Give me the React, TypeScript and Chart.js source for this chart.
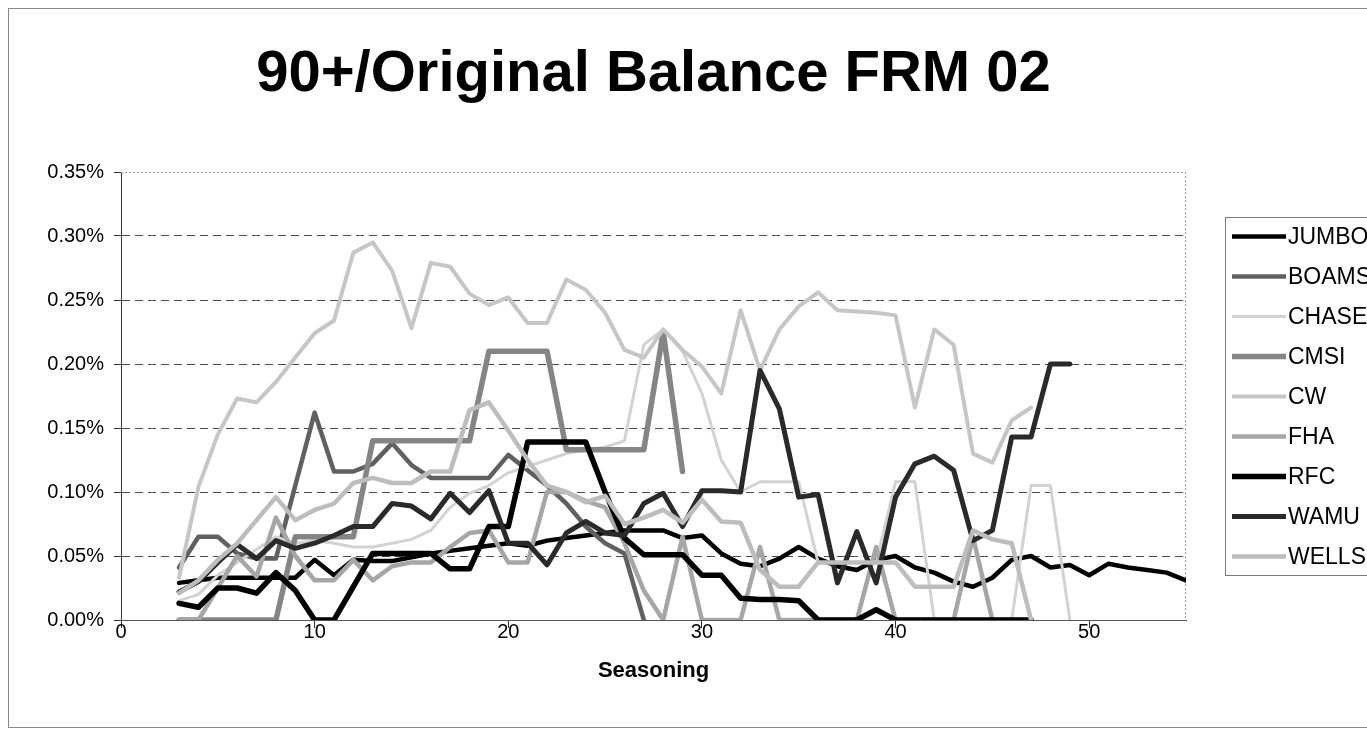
import React, { useEffect, useRef } from 'react';
import { Chart, registerables } from 'chart.js';

Chart.register(...registerables);

const TITLE = '90+/Original Balance FRM 02';
const X_TITLE = 'Seasoning';
const FONT = '"Liberation Sans", Arial, Helvetica, sans-serif';

// first seasoning month of every series
const START = 3;

const X_MIN = 0;
const X_MAX = 55;
const X_STEP = 10;
const Y_MIN = 0;
const Y_MAX = 0.35;
const Y_STEP = 0.05;

// values in percent (0.05 means 0.05%)
const JUMBO = [0.029, 0.031, 0.033, 0.033, 0.033, 0.033, 0.033, 0.047, 0.035, 0.047, 0.046, 0.046, 0.049, 0.052, 0.054, 0.056, 0.058, 0.06, 0.058, 0.062, 0.064, 0.066, 0.068, 0.07, 0.07, 0.07, 0.064, 0.066, 0.052, 0.044, 0.042, 0.048, 0.057, 0.048, 0.042, 0.039, 0.047, 0.05, 0.041, 0.037, 0.03, 0.026, 0.033, 0.047, 0.05, 0.041, 0.043, 0.035, 0.044, 0.041, 0.039, 0.037, 0.031];
const BOAMS = [0.041, 0.065, 0.065, 0.052, 0.048, 0.048, 0.105, 0.162, 0.116, 0.116, 0.122, 0.138, 0.121, 0.111, 0.111, 0.111, 0.111, 0.129, 0.117, 0.105, 0.091, 0.073, 0.06, 0.052, 0];
const CHASE = [0.015, 0.02, 0.035, 0.045, 0.055, 0.065, 0.06, 0.062, 0.06, 0.057, 0.057, 0.06, 0.063, 0.07, 0.088, 0.099, 0.105, 0.115, 0.12, 0.125, 0.13, 0.133, 0.135, 0.14, 0.215, 0.227, 0.21, 0.177, 0.125, 0.1, 0.108, 0.108, 0.108, 0.045, 0.045, 0.045, 0.045, 0.108, 0.108, 0, 0, 0, 0, 0, 0.105, 0.105, 0];
const CMSI = [0, 0, 0, 0, 0, 0, 0.065, 0.065, 0.065, 0.065, 0.14, 0.14, 0.14, 0.14, 0.14, 0.14, 0.21, 0.21, 0.21, 0.21, 0.133, 0.133, 0.133, 0.133, 0.133, 0.225, 0.116];
const CW = [0.033, 0.104, 0.145, 0.173, 0.17, 0.186, 0.205, 0.224, 0.234, 0.287, 0.295, 0.273, 0.228, 0.279, 0.276, 0.255, 0.246, 0.252, 0.232, 0.232, 0.266, 0.258, 0.24, 0.211, 0.205, 0.227, 0.211, 0.198, 0.177, 0.242, 0.195, 0.227, 0.245, 0.256, 0.242, 0.241, 0.24, 0.238, 0.166, 0.227, 0.215, 0.13, 0.123, 0.156, 0.166];
const FHA = [0, 0, 0.025, 0.05, 0.034, 0.08, 0.05, 0.031, 0.031, 0.047, 0.031, 0.042, 0.045, 0.045, 0.057, 0.068, 0.07, 0.045, 0.045, 0.1, 0.1, 0.093, 0.088, 0.06, 0.023, 0, 0.065, 0, 0, 0, 0.057, 0, 0, 0, 0, 0, 0.057, 0, 0, 0, 0, 0.065, 0, 0, 0];
const RFC = [0.013, 0.01, 0.025, 0.025, 0.021, 0.037, 0.023, 0, 0, 0.026, 0.052, 0.052, 0.052, 0.052, 0.04, 0.04, 0.073, 0.073, 0.139, 0.139, 0.139, 0.139, 0.1, 0.064, 0.051, 0.051, 0.051, 0.035, 0.035, 0.017, 0.016, 0.016, 0.015, 0, 0, 0, 0.008, 0, 0, 0, 0, 0, 0, 0, 0];
const WAMU = [0.022, 0.03, 0.045, 0.059, 0.048, 0.062, 0.056, 0.06, 0.066, 0.073, 0.073, 0.091, 0.089, 0.079, 0.099, 0.084, 0.101, 0.06, 0.06, 0.043, 0.068, 0.077, 0.068, 0.066, 0.091, 0.099, 0.073, 0.101, 0.101, 0.1, 0.195, 0.165, 0.096, 0.098, 0.029, 0.069, 0.029, 0.096, 0.122, 0.128, 0.117, 0.062, 0.07, 0.143, 0.143, 0.2, 0.2];
const WELLS = [0.021, 0.031, 0.047, 0.06, 0.078, 0.096, 0.078, 0.086, 0.091, 0.107, 0.111, 0.107, 0.107, 0.116, 0.116, 0.164, 0.17, 0.148, 0.125, 0.105, 0.1, 0.092, 0.097, 0.075, 0.08, 0.086, 0.076, 0.094, 0.077, 0.076, 0.039, 0.026, 0.026, 0.045, 0.045, 0.045, 0.045, 0.045, 0.026, 0.026, 0.026, 0.07, 0.063, 0.06, 0];

const SERIES: { name: string; values: number[]; color: string; width: number }[] = [
  { name: 'JUMBO', values: JUMBO, color: '#000000', width: 4.5 },
  { name: 'BOAMS', values: BOAMS, color: '#606060', width: 4.5 },
  { name: 'CHASE', values: CHASE, color: '#d2d2d2', width: 3 },
  { name: 'CMSI', values: CMSI, color: '#858585', width: 5.5 },
  { name: 'CW', values: CW, color: '#c6c6c6', width: 4 },
  { name: 'FHA', values: FHA, color: '#a6a6a6', width: 4.5 },
  { name: 'RFC', values: RFC, color: '#000000', width: 5.5 },
  { name: 'WAMU', values: WAMU, color: '#2a2a2a', width: 5 },
  { name: 'WELLS', values: WELLS, color: '#bdbdbd', width: 4.5 },
];

const CANVAS_W = 1418;
const CANVAS_H = 718;

const titlePlugin = {
  id: 'bigTitle',
  afterDraw(chart: any) {
    const { ctx, chartArea } = chart;
    ctx.save();
    ctx.fillStyle = '#000';
    ctx.font = `bold 58px ${FONT}`;
    ctx.textAlign = 'center';
    ctx.textBaseline = 'middle';
    ctx.fillText(TITLE, (chartArea.left + chartArea.right) / 2, 66);
    ctx.restore();
  },
};

const framePlugin = {
  id: 'plotFrame',
  beforeDatasetsDraw(chart: any) {
    const { ctx, chartArea } = chart;
    const { left, top, right, bottom } = chartArea;
    ctx.save();
    ctx.strokeStyle = '#9a9a9a';
    ctx.lineWidth = 1;
    ctx.setLineDash([2, 2]);
    ctx.beginPath();
    ctx.moveTo(left, top + 0.5);
    ctx.lineTo(right, top + 0.5);
    ctx.moveTo(right - 0.5, top);
    ctx.lineTo(right - 0.5, bottom);
    ctx.stroke();
    ctx.restore();
  },
};

const legendPlugin = {
  id: 'boxLegend',
  afterDraw(chart: any) {
    const { ctx } = chart;
    ctx.save();
    ctx.strokeStyle = '#7a7a7a';
    ctx.lineWidth = 1;
    ctx.strokeRect(1216.5, 208.5, 400, 358);
    chart.data.datasets.forEach((ds: any, i: number) => {
      const y = 227.5 + 40 * i;
      ctx.strokeStyle = ds.borderColor;
      ctx.lineWidth = ds.borderWidth;
      ctx.lineCap = 'butt';
      ctx.beginPath();
      ctx.moveTo(1223, y);
      ctx.lineTo(1277, y);
      ctx.stroke();
      ctx.fillStyle = '#000';
      ctx.font = `23px ${FONT}`;
      ctx.textAlign = 'left';
      ctx.textBaseline = 'middle';
      ctx.fillText(ds.label, 1279, y + 1);
    });
    ctx.restore();
  },
};

export default function App() {
  const canvasRef = useRef<HTMLCanvasElement | null>(null);

  useEffect(() => {
    const canvas = canvasRef.current;
    if (!canvas) return;
    const n = SERIES.length;
    const chart = new Chart(canvas, {
      type: 'line',
      data: {
        datasets: SERIES.map((s, i) => ({
          label: s.name,
          data: s.values.map((v, k) => ({ x: START + k, y: v })),
          borderColor: s.color,
          backgroundColor: s.color,
          borderWidth: s.width,
          pointRadius: 0,
          pointHoverRadius: 0,
          tension: 0,
          fill: false,
          borderJoinStyle: 'round',
          borderCapStyle: 'round',
          order: n - 1 - i,
        })),
      },
      options: {
        responsive: false,
        animation: false,
        devicePixelRatio: 1,
        events: [],
        layout: { padding: { top: 163, right: CANVAS_W - 1177, bottom: 43, left: 0 } },
        plugins: {
          legend: { display: false },
          title: { display: false },
          tooltip: { enabled: false },
        },
        scales: {
          x: {
            type: 'linear',
            min: X_MIN,
            max: X_MAX,
            afterFit: (scale: any) => {
              scale.height = 64;
            },
            grid: {
              drawOnChartArea: false,
              drawTicks: true,
              tickLength: 8,
              color: '#333',
              tickColor: '#333',
            },
            border: { display: true, color: '#555', width: 1 },
            ticks: {
              stepSize: X_STEP,
              includeBounds: false,
              padding: -8,
              maxRotation: 0,
              autoSkip: false,
              color: '#000',
              font: { family: FONT, size: 20 },
            },
            title: {
              display: true,
              text: X_TITLE,
              color: '#000',
              font: { family: FONT, size: 22, weight: 'bold' },
              padding: { top: 0, bottom: 0 },
            },
          },
          y: {
            type: 'linear',
            min: Y_MIN,
            max: Y_MAX,
            afterFit: (scale: any) => {
              scale.width = 112;
            },
            grid: {
              drawOnChartArea: true,
              drawTicks: true,
              tickLength: 7,
              tickColor: '#333',
              tickBorderDash: [],
              lineWidth: 1,
              color: (c: any) => {
                const v = c.tick ? c.tick.value : -1;
                if (Math.abs(v - Y_MIN) < 1e-9 || Math.abs(v - Y_MAX) < 1e-9) return 'rgba(0,0,0,0)';
                return '#4a4a4a';
              },
            },
            border: { display: true, color: '#333', width: 1, dash: [8, 5] },
            ticks: {
              stepSize: Y_STEP,
              padding: 10,
              color: '#000',
              font: { family: FONT, size: 20 },
              callback: (v: any) => Number(v).toFixed(2) + '%',
            },
          },
        },
      },
      plugins: [framePlugin, titlePlugin, legendPlugin],
    } as any);
    return () => chart.destroy();
  }, []);

  return (
    <div style={{ position: 'absolute', left: 0, top: 0, width: 1367, height: 736, overflow: 'hidden', background: '#fff' }}>
      <div
        style={{
          position: 'absolute',
          left: 8,
          top: 8,
          width: CANVAS_W + 2,
          height: CANVAS_H + 2,
          border: '1px solid #888',
          boxSizing: 'border-box',
          background: '#fff',
        }}
      >
        <canvas ref={canvasRef} width={CANVAS_W} height={CANVAS_H} style={{ display: 'block', width: CANVAS_W, height: CANVAS_H }} />
      </div>
    </div>
  );
}
